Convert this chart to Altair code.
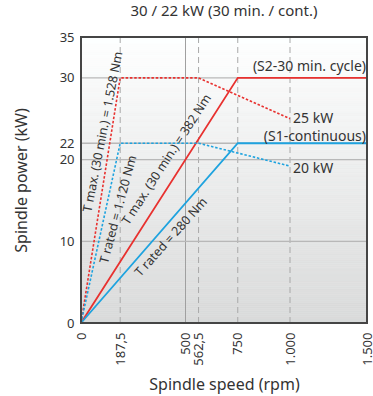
import altair as alt
import pandas as pd

# ---- data ----
s2_speed = [0, 750, 1500]
s2_power = [0, 30, 30]
s1_speed = [0, 750, 1500]
s1_power = [0, 22, 22]
s2max_speed = [0, 187.5, 562.5, 1000]
s2max_power = [0, 30, 30, 25]
s1max_speed = [0, 187.5, 562.5, 1000]
s1max_power = [0, 22, 22, 19.2]

x_ticks = [0, 187.5, 500, 562.5, 750, 1000, 1500]
x_tick_labels = ["0", "187,5", "500", "562,5", "750", "1.000", "1.500"]
y_ticks = [0, 10, 20, 22, 30, 35]
vgrid_solid = [500]
vgrid_dashed = [187.5, 562.5, 750, 1000]
hgrid = [10, 20, 22, 30]

torque_labels = ["T max. (30 min.) = 1.528 Nm", "T rated = 1.120 Nm",
                 "T max. (30 min.) = 382 Nm", "T rated = 280 Nm"]
torque_x = [105, 178, 410, 431]
torque_y = [23.4, 13.9, 20.0, 10.5]
torque_angle = [281, 285, 303, 312]

note_labels = ["(S2-30 min. cycle)", "25 kW", "(S1-continuous)", "20 kW"]
note_x = [1500, 1020, 1500, 1020]
note_y = [31.3, 25, 22.8, 18.8]
note_align = ["right", "left", "right", "left"]

RED = "#e8312f"
BLUE = "#1ea3df"
TXT = "#333333"
FONT = "Noto Sans"
BG_TOP = "#ffffff"
BG_BOTTOM = "#d9dada"

def series(sp, pw, name):
    return pd.DataFrame({"speed": sp, "power": pw, "series": name, "order": range(len(sp))})

lines_df = pd.concat([
    series(s2_speed, s2_power, "s2"),
    series(s1_speed, s1_power, "s1"),
    series(s2max_speed, s2max_power, "s2max"),
    series(s1max_speed, s1max_power, "s1max"),
])

label_map = "{" + ",".join(f"'{v}':'{l}'" for v, l in zip(x_ticks, x_tick_labels)) + "}"

xscale = alt.Scale(domain=[0, 1000, 1500], range=[0, 209, 286])
yscale = alt.Scale(domain=[0, 35])

xaxis = alt.Axis(values=x_ticks, labelAngle=270, labelAlign="right", labelBaseline="middle",
                 labelExpr=f"{label_map}[toString(datum.value)]", labelPadding=9,
                 title="Spindle speed (rpm)", titlePadding=11, ticks=False, domain=False,
                 grid=False, labelFontSize=13, titleFontSize=16, labelColor=TXT,
                 titleColor=TXT, titleFontWeight="normal", labelFont=FONT, titleFont=FONT,
                 labelOverlap=False)
yaxis = alt.Axis(values=y_ticks, title="Spindle power (kW)", ticks=False, domain=False,
                 grid=False, labelFontSize=13, titleFontSize=16, labelColor=TXT,
                 titleColor=TXT, titleFontWeight="normal", labelPadding=7, titlePadding=30,
                 labelFont=FONT, titleFont=FONT, labelOverlap=False)

# background shading: thin horizontal bands coloured by a linear colour scale (white -> grey)
band_lo = [i * 0.25 for i in range(140)]
bands = pd.DataFrame({"lo": band_lo, "hi": [v + 0.25 for v in band_lo],
                      "x0": 0, "x1": 1500, "mid": [v + 0.125 for v in band_lo]})
shade = alt.Scale(domain=[35, 0], range=[BG_TOP, BG_BOTTOM])

bg = alt.Chart(bands).mark_rect(strokeWidth=0.6).encode(
    x=alt.X("x0:Q", scale=xscale, axis=xaxis), x2="x1:Q",
    y=alt.Y("lo:Q", scale=yscale, axis=yaxis), y2="hi:Q",
    fill=alt.Fill("mid:Q", scale=shade, legend=None),
    stroke=alt.Stroke("mid:Q", scale=shade, legend=None))

box_df = pd.DataFrame({"x0": [0], "x1": [1500], "y0": [0], "y1": [35]})

vs = alt.Chart(pd.DataFrame({"speed": vgrid_solid})).mark_rule(color="#a0a0a0", strokeWidth=1).encode(
    x=alt.X("speed:Q", scale=xscale))
vd = alt.Chart(pd.DataFrame({"speed": vgrid_dashed})).mark_rule(color="#a8a8a8", strokeWidth=1,
                                                                 strokeDash=[6, 4]).encode(
    x=alt.X("speed:Q", scale=xscale))
hg = alt.Chart(pd.DataFrame({"power": hgrid})).mark_rule(color="#b8b8b8", strokeWidth=1.3).encode(
    y=alt.Y("power:Q", scale=yscale))

solid = alt.Chart(lines_df[lines_df.series.isin(["s2", "s1"])]).mark_line(strokeWidth=1.8).encode(
    x=alt.X("speed:Q", scale=xscale), y=alt.Y("power:Q", scale=yscale),
    detail="series:N", order="order:Q",
    color=alt.Color("series:N", scale=alt.Scale(domain=["s2", "s1"], range=[RED, BLUE]), legend=None))
dotted = alt.Chart(lines_df[lines_df.series.isin(["s2max", "s1max"])]).mark_line(
    strokeWidth=1.6, strokeDash=[2.5, 1.8]).encode(
    x=alt.X("speed:Q", scale=xscale), y=alt.Y("power:Q", scale=yscale),
    detail="series:N", order="order:Q",
    color=alt.Color("series:N", scale=alt.Scale(domain=["s2max", "s1max"], range=[RED, BLUE]), legend=None))

tdf = pd.DataFrame({"t": torque_labels, "x": torque_x, "y": torque_y})
tlayers = []
for i in range(len(torque_labels)):
    tlayers.append(alt.Chart(tdf.iloc[[i]]).mark_text(
        angle=torque_angle[i], fontSize=12.5, font=FONT, color=TXT, align="center", baseline="middle"
    ).encode(x=alt.X("x:Q", scale=xscale), y=alt.Y("y:Q", scale=yscale), text="t:N"))

ndf = pd.DataFrame({"t": note_labels, "x": note_x, "y": note_y})
nlayers = []
for i in range(len(note_labels)):
    nlayers.append(alt.Chart(ndf.iloc[[i]]).mark_text(
        fontSize=14, font=FONT, color=TXT, align=note_align[i], baseline="middle",
        dx=(-1 if note_align[i] == "right" else 0)
    ).encode(x=alt.X("x:Q", scale=xscale), y=alt.Y("y:Q", scale=yscale), text="t:N"))

border = alt.Chart(box_df).mark_rect(fillOpacity=0, stroke="#454545", strokeWidth=2).encode(
    x=alt.X("x0:Q", scale=xscale), x2="x1:Q",
    y=alt.Y("y0:Q", scale=yscale), y2="y1:Q")

chart = alt.layer(bg, vs, vd, hg, solid, dotted, *tlayers, *nlayers, border).resolve_scale(
    color="independent").properties(
    width=286, height=286,
    title=alt.TitleParams("30 / 22 kW (30 min. / cont.)", fontSize=15, font=FONT, color=TXT,
                          fontWeight="normal", anchor="middle", offset=12),
    autosize=alt.AutoSizeParams(type="none"),
    padding={"left": 81, "top": 37, "right": 6, "bottom": 73},
).configure_view(stroke=None)

chart.save("out.html", embed_options={"renderer": "svg", "actions": False})
